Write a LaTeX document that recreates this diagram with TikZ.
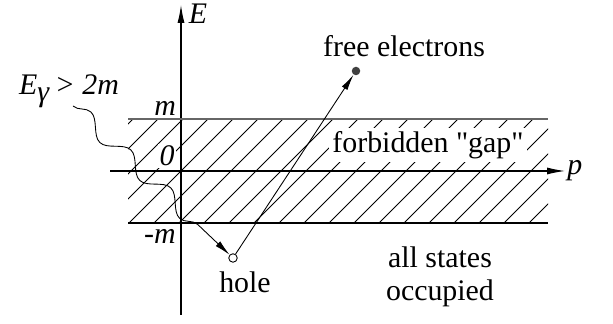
\documentclass[tikz,border=0pt]{standalone}
\usepackage{fontspec}
\setmainfont{Liberation Serif}[Ligatures=TeXOff]
\usetikzlibrary{arrows.meta, positioning, calc, decorations.pathmorphing}

\begin{document}
\begin{tikzpicture}[
    font=\fontsize{17}{19}\selectfont,
    lbl/.style={inner sep=1pt},
    axis/.style={-{Latex[length=3.6mm, width=1.4mm]}, line width=0.6pt},
    arr/.style={-{Latex[length=3.2mm, width=1.3mm]}, line width=0.5pt},
    photon/.style={decorate, decoration={snake, amplitude=1.6mm, segment length=11mm, post length=5mm}, line width=0.5pt},
    level/.style={line width=0.7pt}
]
\useasboundingbox (0,0) rectangle (12.26,6.48);

% hatching of the gap
\begin{scope}
\clip (2.56,2.02) rectangle (10.96,4.10);
\foreach \k in {-3,...,20}
    \draw[line width=0.45pt] (3.66+0.5*\k,4.10) -- ++(-2.08,-2.08);
\end{scope}

\node[lbl, fill=white] (zero) at (3.34,3.36) {\textit{0}};
\node[lbl, fill=white, inner sep=2pt] (gap) at (8.56,3.58) {forbidden "gap"};

% axes
\draw[axis] (2.2,3.06) -- (11.3,3.06) node[right, lbl] (p) {\textit{p}};
\draw[axis] (3.62,0.18) -- (3.62,6.38);
\node[lbl] (E) at (3.96,6.2) {\textit{E}};

% band edges
\draw[level, gray!80!black] (2.56,4.10) -- (10.96,4.10);
\draw[level] (2.56,2.02) -- (10.96,2.02);
\node[lbl, anchor=south east] (m) at (3.56,4.12) {\textit{m}};
\node[lbl] (mm) at (3.2,1.76) {\textit{-m}};

% hole and electron
\node[circle, draw, fill=white, inner sep=0pt, minimum size=1.7mm, line width=0.5pt] (hole) at (4.66,1.32) {};
\node[circle, fill=black!75, inner sep=0pt, minimum size=1.7mm] (elec) at (7.12,5.06) {};
\node[lbl] (holetxt) at (4.9,0.84) {hole};
\node[lbl] (freetxt) at (8.08,5.56) {free electrons};
\node[lbl, align=center] (occ) at (8.8,0.94) {all states\\occupied};

% photon
\node[lbl, anchor=west] (gamma) at (0.34,4.66) {\textit{E}\raisebox{-0.5ex}{\textit{γ}}\,\textit{> 2m}};
\coordinate (gstart) at (1.46,4.36);
\draw[photon, arr] (gstart) -- (hole);
\draw[arr] (hole) -- (elec);
\end{tikzpicture}
\end{document}
